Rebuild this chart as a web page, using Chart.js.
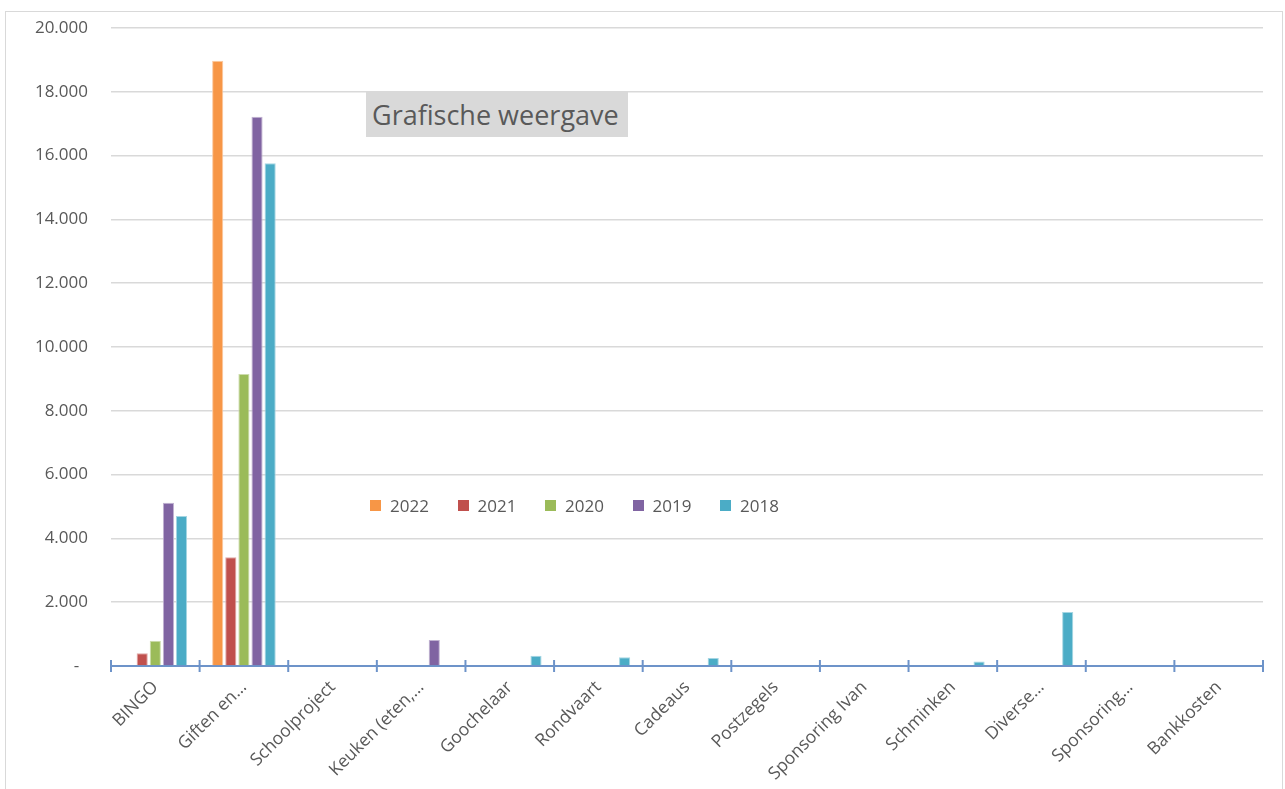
<!DOCTYPE html>
<html>
<head>
<meta charset="utf-8">
<script src="https://cdn.jsdelivr.net/npm/chart.js@4.4.1/dist/chart.umd.min.js"></script>
<style>
  html, body { margin: 0; padding: 0; background: #fff; }
  #wrap { position: relative; width: 1285px; height: 789px; overflow: hidden; font-family: "Open Sans", sans-serif; }
  #frame { position: absolute; left: 5px; top: 11px; width: 1276px; height: 800px; border: 1px solid #d9d9d9; }
  #title { position: absolute; left: 366px; top: 92px; width: 262px; height: 45px; background: #d9d9d9;
           color: #595959; font-size: 27px; line-height: 45px; padding-left: 6px; box-sizing: border-box; white-space: nowrap; }
  #legend { position: absolute; left: 370px; top: 493px; height: 24px; display: flex; }
  .item { display: flex; align-items: center; width: 87.5px; color: #595959; font-size: 17px; }
  .box { width: 11px; height: 11px; margin-right: 9px; }
  canvas { position: absolute; left: 0; top: 0; }
</style>
</head>
<body>
<div id="wrap">
  <div id="frame"></div>
  <canvas id="chart" width="1285" height="789"></canvas>
  <div id="title">Grafische weergave</div>
  <div id="legend"></div>
</div>
<script>
// data
const categories = ["BINGO", "Giften en…", "Schoolproject", "Keuken (eten,…", "Goochelaar", "Rondvaart",
  "Cadeaus", "Postzegels", "Sponsoring Ivan", "Schminken", "Diverse…", "Sponsoring…", "Bankkosten"];
const years = ["2022", "2021", "2020", "2019", "2018"];
const v2022 = [null, 18970, null, null, null, null, null, null, null, null, null, null, null];
const v2021 = [400, 3410, null, null, null, null, null, null, null, null, null, null, null];
const v2020 = [795, 9150, null, null, null, null, null, null, null, null, null, null, null];
const v2019 = [5120, 17220, null, 815, null, null, null, null, null, null, null, null, null];
const v2018 = [4700, 15760, null, null, 325, 275, 250, null, null, 140, 1690, null, null];
const colors = ["#F79646", "#C0504D", "#9BBB59", "#8064A2", "#4BACC6"];
const borders = ["#fbc9a0", "#e0a8a6", "#cddcac", "#c0b2d1", "#a5d6e3"];

const series = [v2022, v2021, v2020, v2019, v2018];

function fmt(v) {
  if (v === 0) return "-  ";
  return String(v).replace(/\B(?=(\d{3})+(?!\d))/g, ".");
}

// tick marks crossing the category axis
const crossTicks = {
  id: "crossTicks",
  afterDraw(chart) {
    const x = chart.scales.x;
    const y0 = chart.scales.y.getPixelForValue(0);
    const ctx = chart.ctx;
    const half = (x.getPixelForValue(1) - x.getPixelForValue(0)) / 2;
    ctx.save();
    ctx.strokeStyle = "#6d93c9";
    ctx.lineWidth = 2;
    for (let i = 0; i <= categories.length; i++) {
      const px = x.getPixelForValue(i) - half;
      ctx.beginPath();
      ctx.moveTo(px, y0 - 6);
      ctx.lineTo(px, y0 + 6);
      ctx.stroke();
    }
    ctx.restore();
  }
};

const chart = new Chart(document.getElementById("chart").getContext("2d"), {
  type: "bar",
  data: {
    labels: categories,
    datasets: years.map((yr, i) => ({
      label: yr,
      data: series[i],
      backgroundColor: colors[i],
      borderColor: borders[i],
      borderWidth: 1,
      categoryPercentage: 0.74,
      barPercentage: 0.85
    }))
  },
  options: {
    responsive: false,
    animation: false,
    layout: { padding: { top: 28, right: 22, left: 0, bottom: 0 } },
    plugins: {
      legend: { display: false },
      title: { display: false },
      tooltip: { enabled: false }
    },
    scales: {
      x: {
        afterFit(scale) { scale.height = 123; },
        grid: { display: false },
        border: { color: "#6d93c9", width: 2 },
        ticks: {
          color: "#595959",
          font: { family: "Open Sans", size: 17.5 },
          minRotation: 45,
          maxRotation: 45,
          padding: 3,
          autoSkip: false
        }
      },
      y: {
        min: 0,
        max: 20000,
        afterFit(scale) { scale.width = 111; },
        border: { display: false },
        grid: {
          drawTicks: true,
          tickLength: 18,
          tickColor: "rgba(0,0,0,0)",
          color: ctx => ctx.tick.value === 0 ? "rgba(0,0,0,0)" : "#d9d9d9",
          lineWidth: 1.5
        },
        ticks: {
          stepSize: 2000,
          padding: 5,
          color: "#595959",
          font: { family: "Open Sans", size: 17 },
          callback: v => fmt(v)
        }
      }
    }
  },
  plugins: [crossTicks]
});

// legend built from the chart's datasets
const legend = document.getElementById("legend");
chart.data.datasets.forEach(ds => {
  const item = document.createElement("div");
  item.className = "item";
  item.innerHTML = '<span class="box" style="background:' + ds.backgroundColor + '"></span>' + ds.label;
  legend.appendChild(item);
});
</script>
</body>
</html>
